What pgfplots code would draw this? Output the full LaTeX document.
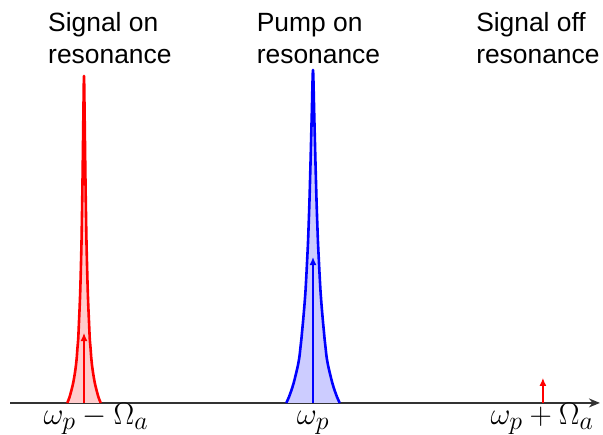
\documentclass[border=0pt]{standalone}
\usepackage{fontspec}
\newfontfamily\arial{Liberation Sans}
\usepackage{graphicx}
\usepackage{pgfplots}
\pgfplotsset{compat=1.18}
\usepackage{pgfplotstable}
\usetikzlibrary{arrows.meta}

% peak profiles (x in units of Omega_a from omega_p, y normalised)
\pgfplotstableread{
x y
-0.1166 0
-0.1048 0.018
-0.0939 0.039
-0.0843 0.060
-0.0734 0.090
-0.0655 0.114
-0.0594 0.138
-0.0550 0.165
-0.0511 0.189
-0.0474 0.216
-0.0441 0.240
-0.0380 0.288
-0.0328 0.336
-0.0284 0.390
-0.0249 0.438
-0.0214 0.489
-0.0157 0.601
-0.0105 0.730
-0.0052 0.871
0 1.000
0.0052 0.871
0.0105 0.730
0.0157 0.601
0.0214 0.489
0.0249 0.438
0.0284 0.390
0.0328 0.336
0.0380 0.288
0.0441 0.240
0.0474 0.216
0.0511 0.189
0.0550 0.165
0.0594 0.138
0.0655 0.114
0.0734 0.090
0.0843 0.060
0.0939 0.039
0.1048 0.018
0.1166 0
}\pump

\pgfplotstableread{
x y
-1.0729 0
-1.0629 0.018
-1.0546 0.039
-1.0472 0.060
-1.0397 0.090
-1.0349 0.114
-1.0314 0.138
-1.0286 0.165
-1.0255 0.189
-1.0236 0.216
-1.0221 0.240
-1.0190 0.288
-1.0164 0.336
-1.0142 0.390
-1.0124 0.438
-1.0107 0.489
-1.0079 0.601
-1.0052 0.730
-1.0026 0.871
-1.0000 0.982
-0.9974 0.871
-0.9948 0.730
-0.9921 0.601
-0.9893 0.489
-0.9876 0.438
-0.9858 0.390
-0.9836 0.336
-0.9810 0.288
-0.9779 0.240
-0.9764 0.216
-0.9745 0.189
-0.9714 0.165
-0.9686 0.138
-0.9651 0.114
-0.9603 0.090
-0.9528 0.060
-0.9454 0.039
-0.9371 0.018
-0.9271 0
}\signal

\newcommand{\bigmath}[1]{\scalebox{1.25}{$#1$}}

\begin{document}
\begin{tikzpicture}
\begin{axis}[
    scale only axis,
    width=590bp, height=333bp,
    xmin=-1.323, xmax=1.253,
    ymin=0, ymax=1,
    axis x line=bottom,
    axis y line=none,
    x axis line style={line width=1.5bp, black!80, -{Stealth[length=11bp,width=9bp]}},
    xtick={-0.948,0,1},
    xticklabels={\bigmath{\omega_p-\Omega_a}, \bigmath{\omega_p}, \bigmath{\omega_p+\Omega_a}},
    major tick length=0pt,
    xticklabel style={anchor=base, yshift=-22bp, inner sep=0pt, font=\fontsize{24.88}{30}\selectfont},
    clip=false,
]
% frame of the page
\path (axis cs:-1.3668,-0.0901) rectangle (axis cs:1.2664,1.2102);

\addplot[draw=none, fill=red!20, smooth, tension=0.5] table {\signal} \closedcycle;
\addplot[draw=none, fill=blue!20, smooth, tension=0.5] table {\pump} \closedcycle;

\addplot[red, line width=1.3bp, -{Latex[length=8bp,width=7bp]}] coordinates {(-1,0) (-1,0.21)};
\addplot[blue, line width=1.3bp, -{Latex[length=8bp,width=7bp]}] coordinates {(0,0) (0,0.438)};
\addplot[red, line width=1.3bp, -{Latex[length=8bp,width=7bp]}] coordinates {(1.004,0) (1.004,0.075)};

\addplot[red, line width=2.6bp, line join=round, smooth, tension=0.5] table {\signal};
\addplot[blue, line width=2.6bp, line join=round, smooth, tension=0.5] table {\pump};

\node[anchor=base west, inner sep=0pt, font=\arial\fontsize{26.5}{31.7}\selectfont] at (axis cs:-1.157,1.115) {Signal on};
\node[anchor=base west, inner sep=0pt, font=\arial\fontsize{26.5}{31.7}\selectfont] at (axis cs:-1.157,1.020) {resonance};
\node[anchor=base west, inner sep=0pt, font=\arial\fontsize{26.5}{31.7}\selectfont] at (axis cs:-0.246,1.115) {Pump on};
\node[anchor=base west, inner sep=0pt, font=\arial\fontsize{26.5}{31.7}\selectfont] at (axis cs:-0.246,1.020) {resonance};
\node[anchor=base west, inner sep=0pt, font=\arial\fontsize{26.5}{31.7}\selectfont] at (axis cs:0.712,1.115) {Signal off};
\node[anchor=base west, inner sep=0pt, font=\arial\fontsize{26.5}{31.7}\selectfont] at (axis cs:0.712,1.020) {resonance};
\end{axis}
\end{tikzpicture}
\end{document}
